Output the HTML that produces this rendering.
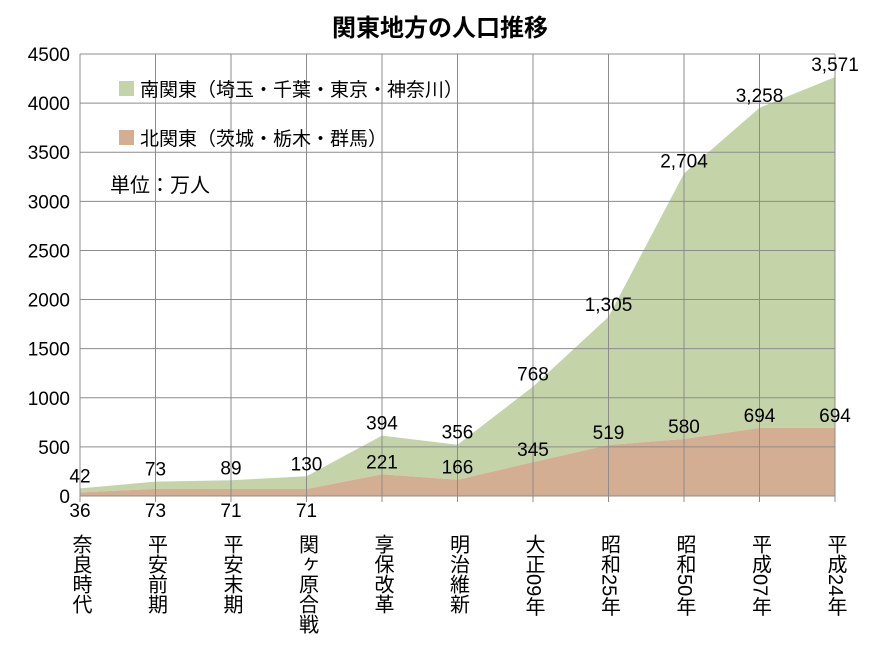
<!DOCTYPE html>
<html><head><meta charset="utf-8">
<style>
html,body{margin:0;padding:0;background:#fff;}
svg{display:block;font-family:"Liberation Sans","Noto Sans CJK JP",sans-serif;}
</style></head>
<body>
<svg id="chart" width="880" height="660">
<text x="440" y="36" text-anchor="middle" font-size="24" font-weight="bold" fill="#000">関東地方の人口推移</text>
<g id="areas"></g>
<g id="grid"></g>
<g id="labels"></g>
<g id="axes"></g>
<g>
<rect x="119" y="81" width="15" height="15" fill="#c4d4a8"/>
<text x="140" y="96" font-size="19">南関東（埼玉・千葉・東京・神奈川）</text>
<rect x="119" y="130" width="15" height="15" fill="#d4ae93"/>
<text x="140" y="145" font-size="19">北関東（茨城・栃木・群馬）</text>
<text x="110" y="192" font-size="20">単位：万人</text>
</g>
</svg>
<script>
const categories=["奈良時代","平安前期","平安末期","関ヶ原合戦","享保改革","明治維新","大正09年","昭和25年","昭和50年","平成07年","平成24年"];
const northValues=[36,73,71,71,221,166,345,519,580,694,694];
const southValues=[42,73,89,130,394,356,768,1305,2704,3258,3571];
const yTicks=[0,500,1000,1500,2000,2500,3000,3500,4000,4500];
const NS="http://www.w3.org/2000/svg";
const x0=80,x1=835,yBase=496,yTop=54,yMax=4500;
const xs=i=>x0+(x1-x0)*i/(categories.length-1);
const ys=v=>yBase-(yBase-yTop)*v/yMax;
function mk(tag,attrs,parent){const e=document.createElementNS(NS,tag);for(const k in attrs)e.setAttribute(k,attrs[k]);parent.appendChild(e);return e;}
const grid=document.getElementById('grid'),areas=document.getElementById('areas'),labels=document.getElementById('labels'),axes=document.getElementById('axes');
yTicks.forEach(t=>{
 const l=mk('line',{x1:x0,x2:x1,y1:ys(t),y2:ys(t),stroke:'#8c8c8c','stroke-width':1},grid);
 
 
 const tx=mk('text',{x:70,y:ys(t)+7,'text-anchor':'end','font-size':19},axes);
 tx.textContent=t;
 
 
});
categories.forEach((c,i)=>{
 const l=mk('line',{x1:xs(i),x2:xs(i),y1:yTop,y2:yBase+6,stroke:'#8c8c8c','stroke-width':1},grid);
 
 
 const tx=mk('text',{x:xs(i),y:534,'font-size':20},axes);
 tx.setAttribute('style','writing-mode:vertical-rl;text-orientation:mixed;');
 tx.textContent=c;
 
 
});
const totals=northValues.map((n,i)=>n+southValues[i]);
let dS='M'+xs(0)+','+ys(northValues[0]);
totals.forEach((t,i)=>dS+=' L'+xs(i)+','+ys(t));
for(let i=northValues.length-1;i>=0;i--)dS+=' L'+xs(i)+','+ys(northValues[i]);
const aS=mk('path',{d:dS+'Z',fill:'#c4d4a8'},areas);


let dN='M'+xs(0)+','+yBase;
northValues.forEach((n,i)=>dN+=' L'+xs(i)+','+ys(n));
dN+=' L'+xs(northValues.length-1)+','+yBase+'Z';
const aN=mk('path',{d:dN,fill:'#d4ae93'},areas);


mk('line',{x1:x0,x2:x1,y1:yBase,y2:yBase,stroke:'#8c8c8c'},axes);
const fmt=v=>v.toLocaleString('en-US');
southValues.forEach((v,i)=>{
 const t=mk('text',{x:xs(i),y:ys(totals[i])-6,'text-anchor':'middle','font-size':19},labels);
 t.textContent=fmt(v);
 
 
});
northValues.forEach((v,i)=>{
 const y=i<4?517:ys(v)-6;
 const t=mk('text',{x:xs(i),y:y,'text-anchor':'middle','font-size':19},labels);
 t.textContent=fmt(v);
 
 
});
</script>
</body></html>
